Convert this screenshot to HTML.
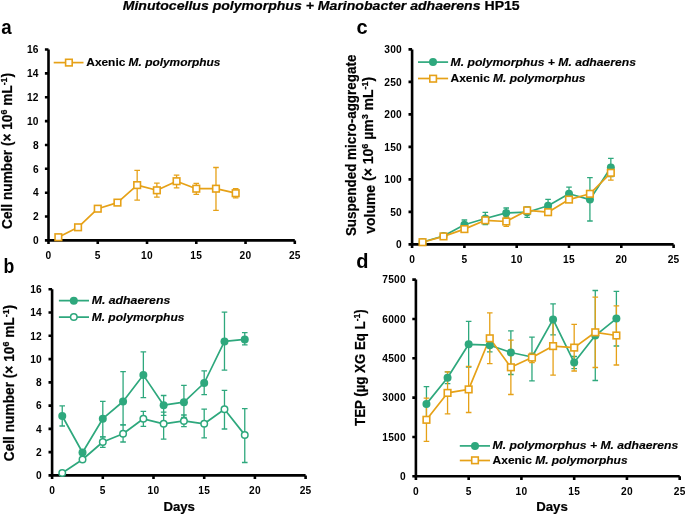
<!DOCTYPE html><html><head><meta charset="utf-8"><style>html,body{margin:0;padding:0;background:#fff;overflow:hidden}svg{display:block;will-change:transform}.t{font-family:"Liberation Sans",sans-serif;font-weight:bold;fill:#000}.i{font-style:italic}.s{stroke:#000;stroke-width:0.22px}.l{stroke:#000;stroke-width:0.15px}</style></head><body>
<svg width="685" height="515" viewBox="0 0 685 515">
<text x="122.7" y="10.4" class="t s" font-size="12.9" textLength="397" lengthAdjust="spacingAndGlyphs"><tspan class="i">Minutocellus polymorphus + Marinobacter adhaerens</tspan> HP15</text>
<text x="1.3" y="33.9" class="t" font-size="20" textLength="10.4" lengthAdjust="spacingAndGlyphs">a</text>
<text x="3.5" y="272.6" class="t" font-size="20" textLength="10.8" lengthAdjust="spacingAndGlyphs">b</text>
<text x="356.4" y="33.6" class="t" font-size="20">c</text>
<text x="356.2" y="267.9" class="t" font-size="20">d</text>
<path d="M48.5 49.5V240.4H294.8" fill="none" stroke="#000" stroke-width="2.6" stroke-linecap="butt"/>
<path d="M44.90 240.40H48.5M44.90 216.54H48.5M44.90 192.68H48.5M44.90 168.82H48.5M44.90 144.96H48.5M44.90 121.10H48.5M44.90 97.24H48.5M44.90 73.38H48.5M44.90 49.52H48.5M48.50 240.4V244.00M97.76 240.4V244.00M147.02 240.4V244.00M196.28 240.4V244.00M245.54 240.4V244.00M294.80 240.4V244.00" fill="none" stroke="#000" stroke-width="2.6"/>
<text x="38.80" y="244.20" text-anchor="end" class="t" font-size="10.2" letter-spacing="0.25">0</text>
<text x="38.80" y="220.34" text-anchor="end" class="t" font-size="10.2" letter-spacing="0.25">2</text>
<text x="38.80" y="196.48" text-anchor="end" class="t" font-size="10.2" letter-spacing="0.25">4</text>
<text x="38.80" y="172.62" text-anchor="end" class="t" font-size="10.2" letter-spacing="0.25">6</text>
<text x="38.80" y="148.76" text-anchor="end" class="t" font-size="10.2" letter-spacing="0.25">8</text>
<text x="38.80" y="124.90" text-anchor="end" class="t" font-size="10.2" letter-spacing="0.25">10</text>
<text x="38.80" y="101.04" text-anchor="end" class="t" font-size="10.2" letter-spacing="0.25">12</text>
<text x="38.80" y="77.18" text-anchor="end" class="t" font-size="10.2" letter-spacing="0.25">14</text>
<text x="38.80" y="53.32" text-anchor="end" class="t" font-size="10.2" letter-spacing="0.25">16</text>
<text x="48.50" y="259.20" text-anchor="middle" class="t" font-size="10.2" letter-spacing="0.25">0</text>
<text x="97.76" y="259.20" text-anchor="middle" class="t" font-size="10.2" letter-spacing="0.25">5</text>
<text x="147.02" y="259.20" text-anchor="middle" class="t" font-size="10.2" letter-spacing="0.25">10</text>
<text x="196.28" y="259.20" text-anchor="middle" class="t" font-size="10.2" letter-spacing="0.25">15</text>
<text x="245.54" y="259.20" text-anchor="middle" class="t" font-size="10.2" letter-spacing="0.25">20</text>
<text x="294.80" y="259.20" text-anchor="middle" class="t" font-size="10.2" letter-spacing="0.25">25</text>
<path d="M137.17 170.40V200.10M134.37 170.40h5.6M134.37 200.10h5.6M156.87 183.10V197.20M154.07 183.10h5.6M154.07 197.20h5.6M176.58 175.10V187.90M173.78 175.10h5.6M173.78 187.90h5.6M196.28 183.30V194.30M193.48 183.30h5.6M193.48 194.30h5.6M215.98 167.50V210.40M213.18 167.50h5.6M213.18 210.40h5.6M235.69 188.70V197.90M232.89 188.70h5.6M232.89 197.90h5.6" fill="none" stroke="#E6A117" stroke-width="1.3"/>
<polyline points="58.35,237.20 78.06,227.30 97.76,208.70 117.46,202.60 137.17,185.10 156.87,190.30 176.58,181.20 196.28,188.70 215.98,188.70 235.69,193.20" fill="none" stroke="#E6A117" stroke-width="1.7" stroke-linejoin="round"/>
<rect x="55.05" y="233.90" width="6.6" height="6.6" fill="#fff" stroke="#E6A117" stroke-width="1.6"/>
<rect x="74.76" y="224.00" width="6.6" height="6.6" fill="#fff" stroke="#E6A117" stroke-width="1.6"/>
<rect x="94.46" y="205.40" width="6.6" height="6.6" fill="#fff" stroke="#E6A117" stroke-width="1.6"/>
<rect x="114.16" y="199.30" width="6.6" height="6.6" fill="#fff" stroke="#E6A117" stroke-width="1.6"/>
<rect x="133.87" y="181.80" width="6.6" height="6.6" fill="#fff" stroke="#E6A117" stroke-width="1.6"/>
<rect x="153.57" y="187.00" width="6.6" height="6.6" fill="#fff" stroke="#E6A117" stroke-width="1.6"/>
<rect x="173.28" y="177.90" width="6.6" height="6.6" fill="#fff" stroke="#E6A117" stroke-width="1.6"/>
<rect x="192.98" y="185.40" width="6.6" height="6.6" fill="#fff" stroke="#E6A117" stroke-width="1.6"/>
<rect x="212.68" y="185.40" width="6.6" height="6.6" fill="#fff" stroke="#E6A117" stroke-width="1.6"/>
<rect x="232.39" y="189.90" width="6.6" height="6.6" fill="#fff" stroke="#E6A117" stroke-width="1.6"/>
<path d="M53.7 62.6H83.5" stroke="#E6A117" stroke-width="1.7"/>
<rect x="65.60" y="59.30" width="6.6" height="6.6" fill="#fff" stroke="#E6A117" stroke-width="1.6"/>
<text x="86.3" y="66.2" class="t l" font-size="11.4" textLength="134.2" lengthAdjust="spacingAndGlyphs">Axenic <tspan class="i">M. polymorphus</tspan></text>
<text transform="translate(12.2,228.9) rotate(-90)" class="t s" font-size="14.8" textLength="156" lengthAdjust="spacingAndGlyphs">Cell number (× 10<tspan font-size="9.6" dy="-4.8">6</tspan><tspan dy="4.8"> mL</tspan><tspan font-size="9.6" dy="-4.8">-1</tspan><tspan dy="4.8">)</tspan></text>
<path d="M52.1 289.3V475.4H305.6" fill="none" stroke="#000" stroke-width="2.6" stroke-linecap="butt"/>
<path d="M48.50 475.40H52.1M48.50 452.14H52.1M48.50 428.88H52.1M48.50 405.61H52.1M48.50 382.35H52.1M48.50 359.09H52.1M48.50 335.82H52.1M48.50 312.56H52.1M48.50 289.30H52.1M52.10 475.4V479.00M102.80 475.4V479.00M153.50 475.4V479.00M204.20 475.4V479.00M254.90 475.4V479.00M305.60 475.4V479.00" fill="none" stroke="#000" stroke-width="2.6"/>
<text x="42.00" y="479.20" text-anchor="end" class="t" font-size="10.2" letter-spacing="0.25">0</text>
<text x="42.00" y="455.94" text-anchor="end" class="t" font-size="10.2" letter-spacing="0.25">2</text>
<text x="42.00" y="432.68" text-anchor="end" class="t" font-size="10.2" letter-spacing="0.25">4</text>
<text x="42.00" y="409.41" text-anchor="end" class="t" font-size="10.2" letter-spacing="0.25">6</text>
<text x="42.00" y="386.15" text-anchor="end" class="t" font-size="10.2" letter-spacing="0.25">8</text>
<text x="42.00" y="362.89" text-anchor="end" class="t" font-size="10.2" letter-spacing="0.25">10</text>
<text x="42.00" y="339.62" text-anchor="end" class="t" font-size="10.2" letter-spacing="0.25">12</text>
<text x="42.00" y="316.36" text-anchor="end" class="t" font-size="10.2" letter-spacing="0.25">14</text>
<text x="42.00" y="293.10" text-anchor="end" class="t" font-size="10.2" letter-spacing="0.25">16</text>
<text x="52.10" y="494.10" text-anchor="middle" class="t" font-size="10.2" letter-spacing="0.25">0</text>
<text x="102.80" y="494.10" text-anchor="middle" class="t" font-size="10.2" letter-spacing="0.25">5</text>
<text x="153.50" y="494.10" text-anchor="middle" class="t" font-size="10.2" letter-spacing="0.25">10</text>
<text x="204.20" y="494.10" text-anchor="middle" class="t" font-size="10.2" letter-spacing="0.25">15</text>
<text x="254.90" y="494.10" text-anchor="middle" class="t" font-size="10.2" letter-spacing="0.25">20</text>
<text x="305.60" y="494.10" text-anchor="middle" class="t" font-size="10.2" letter-spacing="0.25">25</text>
<path d="M62.24 405.90V426.00M59.44 405.90h5.6M59.44 426.00h5.6M82.52 450.50V454.50M79.72 450.50h5.6M79.72 454.50h5.6M102.80 401.30V436.90M100.00 401.30h5.6M100.00 436.90h5.6M123.08 371.70V424.80M120.28 371.70h5.6M120.28 424.80h5.6M143.36 351.80V397.60M140.56 351.80h5.6M140.56 397.60h5.6M163.64 395.50V415.30M160.84 395.50h5.6M160.84 415.30h5.6M183.92 385.30V417.40M181.12 385.30h5.6M181.12 417.40h5.6M204.20 370.80V394.70M201.40 370.80h5.6M201.40 394.70h5.6M224.48 312.20V370.20M221.68 312.20h5.6M221.68 370.20h5.6M244.76 332.60V344.90M241.96 332.60h5.6M241.96 344.90h5.6" fill="none" stroke="#2EA87D" stroke-width="1.3"/>
<path d="M102.80 436.90V447.40M100.00 436.90h5.6M100.00 447.40h5.6M123.08 424.80V442.00M120.28 424.80h5.6M120.28 442.00h5.6M143.36 411.30V426.40M140.56 411.30h5.6M140.56 426.40h5.6M163.64 412.10V439.20M160.84 412.10h5.6M160.84 439.20h5.6M183.92 415.00V426.70M181.12 415.00h5.6M181.12 426.70h5.6M204.20 409.20V437.80M201.40 409.20h5.6M201.40 437.80h5.6M224.48 390.30V429.00M221.68 390.30h5.6M221.68 429.00h5.6M244.76 408.60V462.50M241.96 408.60h5.6M241.96 462.50h5.6" fill="none" stroke="#2EA87D" stroke-width="1.3"/>
<polyline points="62.24,416.00 82.52,452.50 102.80,418.70 123.08,401.50 143.36,375.10 163.64,405.20 183.92,402.20 204.20,383.00 224.48,341.40 244.76,339.40" fill="none" stroke="#2EA87D" stroke-width="1.7" stroke-linejoin="round"/>
<polyline points="62.24,473.00 82.52,459.50 102.80,442.00 123.08,433.70 143.36,418.80 163.64,423.80 183.92,420.90 204.20,423.80 224.48,409.20 244.76,434.90" fill="none" stroke="#2EA87D" stroke-width="1.7" stroke-linejoin="round"/>
<circle cx="62.24" cy="416.00" r="4.0" fill="#2EA87D"/>
<circle cx="82.52" cy="452.50" r="4.0" fill="#2EA87D"/>
<circle cx="102.80" cy="418.70" r="4.0" fill="#2EA87D"/>
<circle cx="123.08" cy="401.50" r="4.0" fill="#2EA87D"/>
<circle cx="143.36" cy="375.10" r="4.0" fill="#2EA87D"/>
<circle cx="163.64" cy="405.20" r="4.0" fill="#2EA87D"/>
<circle cx="183.92" cy="402.20" r="4.0" fill="#2EA87D"/>
<circle cx="204.20" cy="383.00" r="4.0" fill="#2EA87D"/>
<circle cx="224.48" cy="341.40" r="4.0" fill="#2EA87D"/>
<circle cx="244.76" cy="339.40" r="4.0" fill="#2EA87D"/>
<circle cx="62.24" cy="473.00" r="3.25" fill="#fff" stroke="#2EA87D" stroke-width="1.5"/>
<circle cx="82.52" cy="459.50" r="3.25" fill="#fff" stroke="#2EA87D" stroke-width="1.5"/>
<circle cx="102.80" cy="442.00" r="3.25" fill="#fff" stroke="#2EA87D" stroke-width="1.5"/>
<circle cx="123.08" cy="433.70" r="3.25" fill="#fff" stroke="#2EA87D" stroke-width="1.5"/>
<circle cx="143.36" cy="418.80" r="3.25" fill="#fff" stroke="#2EA87D" stroke-width="1.5"/>
<circle cx="163.64" cy="423.80" r="3.25" fill="#fff" stroke="#2EA87D" stroke-width="1.5"/>
<circle cx="183.92" cy="420.90" r="3.25" fill="#fff" stroke="#2EA87D" stroke-width="1.5"/>
<circle cx="204.20" cy="423.80" r="3.25" fill="#fff" stroke="#2EA87D" stroke-width="1.5"/>
<circle cx="224.48" cy="409.20" r="3.25" fill="#fff" stroke="#2EA87D" stroke-width="1.5"/>
<circle cx="244.76" cy="434.90" r="3.25" fill="#fff" stroke="#2EA87D" stroke-width="1.5"/>
<path d="M58.9 300.7H89M58.9 317.1H89" stroke="#2EA87D" stroke-width="1.7"/>
<circle cx="73.80" cy="300.70" r="4.0" fill="#2EA87D"/>
<circle cx="73.80" cy="317.10" r="3.25" fill="#fff" stroke="#2EA87D" stroke-width="1.5"/>
<text x="91.7" y="304.1" class="t i l" font-size="11.4" textLength="78.6" lengthAdjust="spacingAndGlyphs">M. adhaerens</text>
<text x="91.7" y="320.6" class="t i l" font-size="11.4" textLength="92.8" lengthAdjust="spacingAndGlyphs">M. polymorphus</text>
<text transform="translate(14.0,461.2) rotate(-90)" class="t s" font-size="14.8" textLength="156.4" lengthAdjust="spacingAndGlyphs">Cell number (× 10<tspan font-size="9.6" dy="-4.8">6</tspan><tspan dy="4.8"> mL</tspan><tspan font-size="9.6" dy="-4.8">-1</tspan><tspan dy="4.8">)</tspan></text>
<text x="163.4" y="511.2" class="t s" font-size="13.2">Days</text>
<path d="M412.1 49.4V244.4H673.6" fill="none" stroke="#000" stroke-width="2.6" stroke-linecap="butt"/>
<path d="M408.50 244.40H412.1M408.50 211.90H412.1M408.50 179.40H412.1M408.50 146.90H412.1M408.50 114.40H412.1M408.50 81.90H412.1M408.50 49.40H412.1M412.10 244.4V248.00M464.40 244.4V248.00M516.70 244.4V248.00M569.00 244.4V248.00M621.30 244.4V248.00M673.60 244.4V248.00" fill="none" stroke="#000" stroke-width="2.6"/>
<text x="402.00" y="248.20" text-anchor="end" class="t" font-size="10.2" letter-spacing="0.25">0</text>
<text x="402.00" y="215.70" text-anchor="end" class="t" font-size="10.2" letter-spacing="0.25">50</text>
<text x="402.00" y="183.20" text-anchor="end" class="t" font-size="10.2" letter-spacing="0.25">100</text>
<text x="402.00" y="150.70" text-anchor="end" class="t" font-size="10.2" letter-spacing="0.25">150</text>
<text x="402.00" y="118.20" text-anchor="end" class="t" font-size="10.2" letter-spacing="0.25">200</text>
<text x="402.00" y="85.70" text-anchor="end" class="t" font-size="10.2" letter-spacing="0.25">250</text>
<text x="402.00" y="53.20" text-anchor="end" class="t" font-size="10.2" letter-spacing="0.25">300</text>
<text x="412.10" y="262.80" text-anchor="middle" class="t" font-size="10.2" letter-spacing="0.25">0</text>
<text x="464.40" y="262.80" text-anchor="middle" class="t" font-size="10.2" letter-spacing="0.25">5</text>
<text x="516.70" y="262.80" text-anchor="middle" class="t" font-size="10.2" letter-spacing="0.25">10</text>
<text x="569.00" y="262.80" text-anchor="middle" class="t" font-size="10.2" letter-spacing="0.25">15</text>
<text x="621.30" y="262.80" text-anchor="middle" class="t" font-size="10.2" letter-spacing="0.25">20</text>
<text x="673.60" y="262.80" text-anchor="middle" class="t" font-size="10.2" letter-spacing="0.25">25</text>
<path d="M464.40 220.00V229.40M461.60 220.00h5.6M461.60 229.40h5.6M485.32 212.40V224.60M482.52 212.40h5.6M482.52 224.60h5.6M506.24 208.00V217.80M503.44 208.00h5.6M503.44 217.80h5.6M527.16 207.00V217.40M524.36 207.00h5.6M524.36 217.40h5.6M548.08 199.40V212.00M545.28 199.40h5.6M545.28 212.00h5.6M569.00 187.10V200.50M566.20 187.10h5.6M566.20 200.50h5.6M589.92 177.70V221.00M587.12 177.70h5.6M587.12 221.00h5.6M610.84 158.40V176.60M608.04 158.40h5.6M608.04 176.60h5.6" fill="none" stroke="#2EA87D" stroke-width="1.3"/>
<path d="M506.24 216.60V226.40M503.44 216.60h5.6M503.44 226.40h5.6M610.84 165.50V180.10M608.04 165.50h5.6M608.04 180.10h5.6" fill="none" stroke="#E6A117" stroke-width="1.3"/>
<polyline points="422.56,242.00 443.48,236.00 464.40,224.70 485.32,218.50 506.24,212.90 527.16,212.20 548.08,205.70 569.00,193.80 589.92,199.60 610.84,167.50" fill="none" stroke="#2EA87D" stroke-width="1.7" stroke-linejoin="round"/>
<polyline points="422.56,242.20 443.48,236.40 464.40,229.10 485.32,220.30 506.24,221.50 527.16,210.40 548.08,212.20 569.00,199.60 589.92,193.80 610.84,172.80" fill="none" stroke="#E6A117" stroke-width="1.7" stroke-linejoin="round"/>
<circle cx="422.56" cy="242.00" r="4.0" fill="#2EA87D"/>
<circle cx="443.48" cy="236.00" r="4.0" fill="#2EA87D"/>
<circle cx="464.40" cy="224.70" r="4.0" fill="#2EA87D"/>
<circle cx="485.32" cy="218.50" r="4.0" fill="#2EA87D"/>
<circle cx="506.24" cy="212.90" r="4.0" fill="#2EA87D"/>
<circle cx="527.16" cy="212.20" r="4.0" fill="#2EA87D"/>
<circle cx="548.08" cy="205.70" r="4.0" fill="#2EA87D"/>
<circle cx="569.00" cy="193.80" r="4.0" fill="#2EA87D"/>
<circle cx="589.92" cy="199.60" r="4.0" fill="#2EA87D"/>
<circle cx="610.84" cy="167.50" r="4.0" fill="#2EA87D"/>
<rect x="419.26" y="238.90" width="6.6" height="6.6" fill="#fff" stroke="#E6A117" stroke-width="1.6"/>
<rect x="440.18" y="233.10" width="6.6" height="6.6" fill="#fff" stroke="#E6A117" stroke-width="1.6"/>
<rect x="461.10" y="225.80" width="6.6" height="6.6" fill="#fff" stroke="#E6A117" stroke-width="1.6"/>
<rect x="482.02" y="217.00" width="6.6" height="6.6" fill="#fff" stroke="#E6A117" stroke-width="1.6"/>
<rect x="502.94" y="218.20" width="6.6" height="6.6" fill="#fff" stroke="#E6A117" stroke-width="1.6"/>
<rect x="523.86" y="207.10" width="6.6" height="6.6" fill="#fff" stroke="#E6A117" stroke-width="1.6"/>
<rect x="544.78" y="208.90" width="6.6" height="6.6" fill="#fff" stroke="#E6A117" stroke-width="1.6"/>
<rect x="565.70" y="196.30" width="6.6" height="6.6" fill="#fff" stroke="#E6A117" stroke-width="1.6"/>
<rect x="586.62" y="190.50" width="6.6" height="6.6" fill="#fff" stroke="#E6A117" stroke-width="1.6"/>
<rect x="607.54" y="169.50" width="6.6" height="6.6" fill="#fff" stroke="#E6A117" stroke-width="1.6"/>
<path d="M418 62.1H448.1" stroke="#2EA87D" stroke-width="1.7"/><path d="M418 78.5H448.1" stroke="#E6A117" stroke-width="1.7"/>
<circle cx="433.00" cy="62.10" r="4.0" fill="#2EA87D"/>
<rect x="429.80" y="75.40" width="6.6" height="6.6" fill="#fff" stroke="#E6A117" stroke-width="1.6"/>
<text x="450.6" y="65.8" class="t i l" font-size="11.4" textLength="185.4" lengthAdjust="spacingAndGlyphs">M. polymorphus + M. adhaerens</text>
<text x="450.6" y="82.2" class="t l" font-size="11.4" textLength="134.8" lengthAdjust="spacingAndGlyphs">Axenic <tspan class="i">M. polymorphus</tspan></text>
<text transform="translate(356.4,236.1) rotate(-90)" class="t s" font-size="14.8" textLength="181.5" lengthAdjust="spacingAndGlyphs">Suspended micro-aggregate</text>
<text transform="translate(375.0,233.8) rotate(-90)" class="t s" font-size="14.8" textLength="157.1" lengthAdjust="spacingAndGlyphs">volume<tspan dy="-2.1"> (× 10</tspan><tspan font-size="9.6" dy="-4.8">6</tspan><tspan dy="4.8"> µm</tspan><tspan font-size="9.6" dy="-4.8">3</tspan><tspan dy="4.8"> mL</tspan><tspan font-size="9.6" dy="-4.8">-1</tspan><tspan dy="4.8">)</tspan></text>
<path d="M415.9 279.6V476.3H679.7" fill="none" stroke="#000" stroke-width="2.6" stroke-linecap="butt"/>
<path d="M412.30 476.30H415.9M412.30 436.96H415.9M412.30 397.62H415.9M412.30 358.28H415.9M412.30 318.94H415.9M412.30 279.60H415.9M415.90 476.3V479.90M468.66 476.3V479.90M521.42 476.3V479.90M574.18 476.3V479.90M626.94 476.3V479.90M679.70 476.3V479.90" fill="none" stroke="#000" stroke-width="2.6"/>
<text x="405.90" y="480.10" text-anchor="end" class="t" font-size="10.2" letter-spacing="0.25">0</text>
<text x="405.90" y="440.76" text-anchor="end" class="t" font-size="10.2" letter-spacing="0.25">1500</text>
<text x="405.90" y="401.42" text-anchor="end" class="t" font-size="10.2" letter-spacing="0.25">3000</text>
<text x="405.90" y="362.08" text-anchor="end" class="t" font-size="10.2" letter-spacing="0.25">4500</text>
<text x="405.90" y="322.74" text-anchor="end" class="t" font-size="10.2" letter-spacing="0.25">6000</text>
<text x="405.90" y="283.40" text-anchor="end" class="t" font-size="10.2" letter-spacing="0.25">7500</text>
<text x="415.90" y="494.50" text-anchor="middle" class="t" font-size="10.2" letter-spacing="0.25">0</text>
<text x="468.66" y="494.50" text-anchor="middle" class="t" font-size="10.2" letter-spacing="0.25">5</text>
<text x="521.42" y="494.50" text-anchor="middle" class="t" font-size="10.2" letter-spacing="0.25">10</text>
<text x="574.18" y="494.50" text-anchor="middle" class="t" font-size="10.2" letter-spacing="0.25">15</text>
<text x="626.94" y="494.50" text-anchor="middle" class="t" font-size="10.2" letter-spacing="0.25">20</text>
<text x="679.70" y="494.50" text-anchor="middle" class="t" font-size="10.2" letter-spacing="0.25">25</text>
<path d="M426.45 386.60V421.20M423.65 386.60h5.6M423.65 421.20h5.6M447.56 371.90V383.70M444.76 371.90h5.6M444.76 383.70h5.6M468.66 321.40V367.20M465.86 321.40h5.6M465.86 367.20h5.6M489.76 338.60V351.80M486.96 338.60h5.6M486.96 351.80h5.6M510.87 330.90V374.50M508.07 330.90h5.6M508.07 374.50h5.6M531.97 337.10V380.80M529.17 337.10h5.6M529.17 380.80h5.6M553.08 303.90V334.90M550.28 303.90h5.6M550.28 334.90h5.6M574.18 356.50V368.70M571.38 356.50h5.6M571.38 368.70h5.6M595.28 290.50V380.50M592.48 290.50h5.6M592.48 380.50h5.6M616.39 291.40V346.00M613.59 291.40h5.6M613.59 346.00h5.6" fill="none" stroke="#2EA87D" stroke-width="1.3"/>
<path d="M426.45 398.20V441.30M423.65 398.20h5.6M423.65 441.30h5.6M447.56 371.90V413.90M444.76 371.90h5.6M444.76 413.90h5.6M468.66 366.40V412.50M465.86 366.40h5.6M465.86 412.50h5.6M489.76 312.80V363.60M486.96 312.80h5.6M486.96 363.60h5.6M510.87 340.20V394.50M508.07 340.20h5.6M508.07 394.50h5.6M531.97 353.10V362.70M529.17 353.10h5.6M529.17 362.70h5.6M553.08 317.60V375.10M550.28 317.60h5.6M550.28 375.10h5.6M574.18 324.40V371.00M571.38 324.40h5.6M571.38 371.00h5.6M595.28 297.10V367.50M592.48 297.10h5.6M592.48 367.50h5.6M616.39 305.80V365.00M613.59 305.80h5.6M613.59 365.00h5.6" fill="none" stroke="#E6A117" stroke-width="1.3"/>
<polyline points="426.45,403.90 447.56,377.80 468.66,344.30 489.76,345.20 510.87,352.50 531.97,357.00 553.08,319.40 574.18,362.60 595.28,335.60 616.39,318.60" fill="none" stroke="#2EA87D" stroke-width="1.7" stroke-linejoin="round"/>
<polyline points="426.45,419.80 447.56,392.90 468.66,389.40 489.76,338.30 510.87,367.30 531.97,357.60 553.08,346.10 574.18,347.60 595.28,332.30 616.39,335.50" fill="none" stroke="#E6A117" stroke-width="1.7" stroke-linejoin="round"/>
<circle cx="426.45" cy="403.90" r="4.0" fill="#2EA87D"/>
<circle cx="447.56" cy="377.80" r="4.0" fill="#2EA87D"/>
<circle cx="468.66" cy="344.30" r="4.0" fill="#2EA87D"/>
<circle cx="489.76" cy="345.20" r="4.0" fill="#2EA87D"/>
<circle cx="510.87" cy="352.50" r="4.0" fill="#2EA87D"/>
<circle cx="531.97" cy="357.00" r="4.0" fill="#2EA87D"/>
<circle cx="553.08" cy="319.40" r="4.0" fill="#2EA87D"/>
<circle cx="574.18" cy="362.60" r="4.0" fill="#2EA87D"/>
<circle cx="595.28" cy="335.60" r="4.0" fill="#2EA87D"/>
<circle cx="616.39" cy="318.60" r="4.0" fill="#2EA87D"/>
<rect x="423.15" y="416.50" width="6.6" height="6.6" fill="#fff" stroke="#E6A117" stroke-width="1.6"/>
<rect x="444.26" y="389.60" width="6.6" height="6.6" fill="#fff" stroke="#E6A117" stroke-width="1.6"/>
<rect x="465.36" y="386.10" width="6.6" height="6.6" fill="#fff" stroke="#E6A117" stroke-width="1.6"/>
<rect x="486.46" y="335.00" width="6.6" height="6.6" fill="#fff" stroke="#E6A117" stroke-width="1.6"/>
<rect x="507.57" y="364.00" width="6.6" height="6.6" fill="#fff" stroke="#E6A117" stroke-width="1.6"/>
<rect x="528.67" y="354.30" width="6.6" height="6.6" fill="#fff" stroke="#E6A117" stroke-width="1.6"/>
<rect x="549.78" y="342.80" width="6.6" height="6.6" fill="#fff" stroke="#E6A117" stroke-width="1.6"/>
<rect x="570.88" y="344.30" width="6.6" height="6.6" fill="#fff" stroke="#E6A117" stroke-width="1.6"/>
<rect x="591.98" y="329.00" width="6.6" height="6.6" fill="#fff" stroke="#E6A117" stroke-width="1.6"/>
<rect x="613.09" y="332.20" width="6.6" height="6.6" fill="#fff" stroke="#E6A117" stroke-width="1.6"/>
<path d="M459.8 445.9H490" stroke="#2EA87D" stroke-width="1.7"/><path d="M459.8 460.5H490" stroke="#E6A117" stroke-width="1.7"/>
<circle cx="475.00" cy="445.90" r="4.0" fill="#2EA87D"/>
<rect x="471.70" y="457.00" width="6.6" height="6.6" fill="#fff" stroke="#E6A117" stroke-width="1.6"/>
<text x="492.6" y="449.4" class="t i l" font-size="11.4" textLength="185.6" lengthAdjust="spacingAndGlyphs">M. polymorphus + M. adhaerens</text>
<text x="492.6" y="464.0" class="t l" font-size="11.4" textLength="135" lengthAdjust="spacingAndGlyphs">Axenic <tspan class="i">M. polymorphus</tspan></text>
<text transform="translate(364.6,425.9) rotate(-90)" class="t s" font-size="14.8" textLength="116.6" lengthAdjust="spacingAndGlyphs">TEP (µg XG Eq L<tspan font-size="9.6" dy="-4.8">-1</tspan><tspan dy="4.8">)</tspan></text>
<text x="536.2" y="511.1" class="t s" font-size="13.2">Days</text>
</svg></body></html>
